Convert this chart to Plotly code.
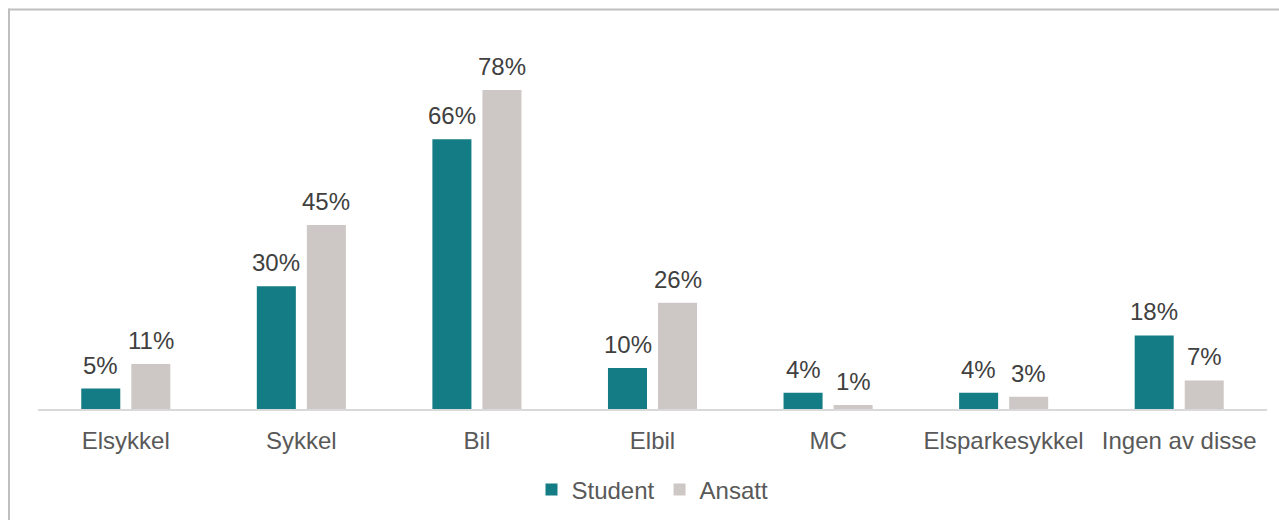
import plotly.graph_objects as go

categories = ["Elsykkel", "Sykkel", "Bil", "Elbil", "MC", "Elsparkesykkel", "Ingen av disse"]
student = [5, 30, 66, 10, 4, 4, 18]
ansatt = [11, 45, 78, 26, 1, 3, 7]
series_names = ["Student", "Ansatt"]
colors = ["#147C84", "#CDC8C5"]

FONT = "Liberation Sans, Arial, sans-serif"
FS = 24

fig = go.Figure()
for name, vals, col in zip(series_names, [student, ansatt], colors):
    fig.add_trace(go.Bar(
        name=name, x=categories, y=vals, marker=dict(color=col, line=dict(width=0)),
        hoverinfo="skip",
    ))

annotations = []
for vals, shift in [(student, -25), (ansatt, 25)]:
    for c, v in zip(categories, vals):
        annotations.append(dict(
            x=c, y=v, xref="x", yref="y", text=f"{v}%", showarrow=False,
            xshift=shift, yshift=8, yanchor="bottom", xanchor="center",
            font=dict(family=FONT, size=FS, color="#404040"),
        ))

L, R, T, B = 38, 12, 41, 111
W, H = 1279, 520
pw, ph = W - L - R, H - T - B

def px2x(px):
    return (px - L) / pw

def py2y(py):
    return (H - B - py) / ph

shapes = [
    dict(type="line", xref="paper", yref="paper", x0=px2x(9), x1=px2x(1290),
         y0=py2y(9.5), y1=py2y(9.5), line=dict(color="#BFBFBF", width=2)),
    dict(type="line", xref="paper", yref="paper", x0=px2x(9), x1=px2x(9),
         y0=py2y(8.5), y1=py2y(530), line=dict(color="#BFBFBF", width=2)),
]

fig.update_layout(
    width=W, height=H,
    margin=dict(l=L, r=R, t=T, b=B, autoexpand=False),
    paper_bgcolor="white", plot_bgcolor="white",
    barmode="group", bargap=0.43, bargroupgap=0.22,
    font=dict(family=FONT, size=FS, color="#595959"),
    showlegend=True,
    legend=dict(orientation="h", x=0.5, xanchor="center", y=py2y(490), yanchor="middle",
                font=dict(family=FONT, size=FS, color="#595959"), itemclick=False,
                traceorder="normal", itemwidth=30),
    xaxis=dict(showline=True, linecolor="#D9D9D9", linewidth=1.5, ticks="",
               showgrid=False, zeroline=False, tickfont=dict(size=FS, color="#595959"),
               ticklabelstandoff=9, fixedrange=True),
    yaxis=dict(range=[0, 90], showgrid=False, zeroline=False, showticklabels=False,
               showline=False, ticks="", fixedrange=True),
    annotations=annotations,
    shapes=shapes,
)

fig.write_html("out.html", config={"displayModeBar": False})
